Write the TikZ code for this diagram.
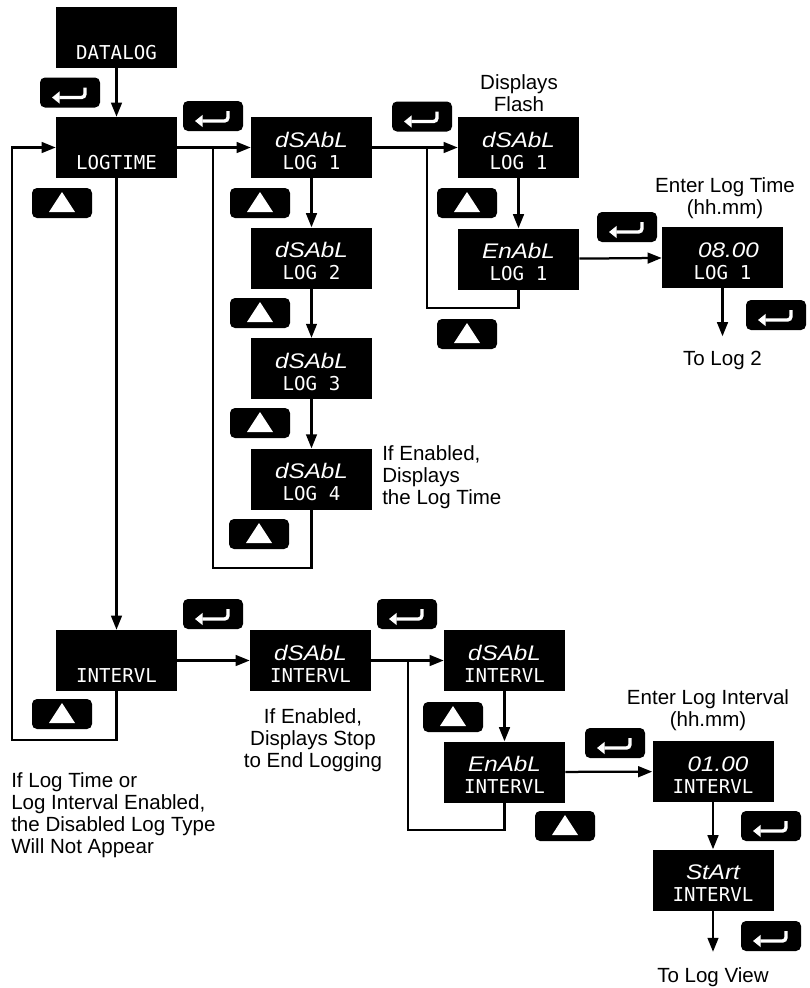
\documentclass[tikz,border=0pt]{standalone}
\usepackage{fontspec}
\setmainfont{Liberation Sans}
\newfontfamily\lcdtopfont{Liberation Sans}[FakeStretch=1.15]
\newfontfamily\lcdbotfont{DejaVu Sans Mono}
\usepackage{tikz}
\usetikzlibrary{arrows.meta, positioning}
\newlength{\px}
\setlength{\px}{0.025cm}
\newcommand{\lcdtop}{\lcdtopfont\itshape\fontsize{15}{15}\selectfont}
\newcommand{\lcdbot}{\lcdbotfont\fontsize{13.6}{14}\selectfont}
% display: upper and lower row
\newcommand{\lcd}[2]{\vbox to 61\px{\offinterlineskip
  \hbox to 121\px{\hss\rule{0pt}{30\px}{\lcdtop #1}\hss}
  \hbox to 121\px{\hss\rule{0pt}{22\px}{\lcdbot #2}\hss}\vss}}
\tikzstyle{lcd} = [rectangle, fill=black, text=white,
minimum width=121\px,
minimum height=61\px,
inner sep=0pt]
\tikzstyle{enterkey} = [rectangle, rounded corners=5\px, fill=black,
minimum width=60\px,
minimum height=30\px,
inner sep=0pt,
path picture={\draw[white, line width=2.4pt, rounded corners=2.5pt, -{Triangle[length=5.5pt,width=8.5pt]}]
  ([shift={(15,-5)}]path picture bounding box.center) |- ([shift={(-18,5)}]path picture bounding box.center);}]
\tikzstyle{upkey} = [rectangle, rounded corners=5\px, fill=black,
minimum width=60\px,
minimum height=30\px,
inner sep=0pt,
path picture={\fill[white, sharp corners] ([shift={(-13,9)}]path picture bounding box.center)
  -- ([shift={(13,9)}]path picture bounding box.center)
  -- ([shift={(0,-11)}]path picture bounding box.center) -- cycle;}]
\tikzstyle{note} = [inner sep=0pt, font=\fontsize{14.6}{15.6}\selectfont]
\tikzstyle{endnote} = [note, inner sep=15\px]
\tikzstyle{line} = [line width=1.6pt]
\tikzstyle{arrow} = [line width=1.6pt, -{Triangle[length=10pt,width=7.6pt]}]

\begin{document}
\begin{tikzpicture}[x=\px, y=-\px, node distance=49\px]
        \useasboundingbox (0,0) rectangle (810,988);

        % --- Displays ---
        \node (datalog) [lcd] at (116.5,37.5) {\lcd{}{DATALOG}};
        \node (logtime) [lcd] at (116.5,147.5) {\lcd{}{LOGTIME}};

        \node (log1) [lcd] at (311.5,147.5) {\lcd{dSAbL}{LOG 1}};
        \node (log2) [lcd, below=of log1] {\lcd{dSAbL}{LOG 2}};
        \node (log3) [lcd, below=of log2] {\lcd{dSAbL}{LOG 3}};
        \node (log4) [lcd, below=of log3] {\lcd{dSAbL}{LOG 4}};

        \node (flash1) [lcd] at (518.5,147.5) {\lcd{dSAbL}{LOG 1}};
        \node (ena1) [lcd, below=50\px of flash1] {\lcd{EnAbL}{LOG 1}};
        \node (time) [lcd] at (722.5,257.5) {\lcd{\hspace*{12\px}08.00}{LOG 1}};

        \node (intervl) [lcd] at (116.5,660.5) {\lcd{}{INTERVL}};
        \node (ivdis) [lcd] at (310.5,660.5) {\lcd{dSAbL}{INTERVL}};
        \node (ivflash) [lcd] at (504.5,660.5) {\lcd{dSAbL}{INTERVL}};
        \node (ivena) [lcd, below=50\px of ivflash] {\lcd{EnAbL}{INTERVL}};
        \node (ivval) [lcd] at (713,771.5) {\lcd{\hspace*{10\px}01.00}{INTERVL}};
        \node (ivstart) [lcd, below=47\px of ivval] {\lcd{StArt}{INTERVL}};

        % --- Keys ---
        \node (ek1) [enterkey] at (70,92.5) {};
        \node (ek2) [enterkey] at (213,116) {};
        \node (ek3) [enterkey] at (422,116.5) {};
        \node (ek4) [enterkey] at (627,227) {};
        \node (ek5) [enterkey] at (776,315) {};
        \node (ek6) [enterkey] at (213,614) {};
        \node (ek7) [enterkey] at (407,614) {};
        \node (ek8) [enterkey] at (615,743) {};
        \node (ek9) [enterkey] at (771,826) {};
        \node (ek10) [enterkey] at (771,936) {};

        \node (uk1) [upkey] at (62,203) {};
        \node (uk2) [upkey] at (260,203) {};
        \node (uk3) [upkey] at (260,313) {};
        \node (uk4) [upkey] at (260,423) {};
        \node (uk5) [upkey] at (259,534) {};
        \node (uk6) [upkey] at (467,203) {};
        \node (uk7) [upkey] at (467,334) {};
        \node (uk8) [upkey] at (62,714) {};
        \node (uk9) [upkey] at (453,717) {};
        \node (uk10) [upkey] at (565,826) {};

        % --- Notes ---
        \node (flashnote) [note, align=center] at (519,93) {Displays\\Flash};
        \node (timenote) [note, align=center] at (725,198) {Enter Log Time\\(hh.mm)};
        \node (log4note) [note, align=left, anchor=west] at (382,477) {If Enabled,\\Displays\\the Log Time};
        \node (stopnote) [note, align=center] at (313,740) {If Enabled,\\Displays Stop\\to End Logging};
        \node (typenote) [note, align=left, anchor=west] at (11,815) {If Log Time or\\Log Interval Enabled,\\the Disabled Log Type\\Will Not Appear};
        \node (ivnote) [note, align=center] at (708,710) {Enter Log Interval\\(hh.mm)};
        \node (tolog2) [endnote, below=48\px of time] {To Log 2};
        \node (tologview) [endnote, below=41\px of ivstart] {To Log View};

        \coordinate (logloop) at (213,568);
        \coordinate (flashloop) at (427,308);
        \coordinate (mainloop) at (12,740);
        \coordinate (ivloop) at (408,830);

        % --- Connectors ---
        \draw [arrow] (datalog) -- (logtime);
        \draw [arrow] (logtime) -- (log1);
        \draw [arrow] (log1) -- (log2);
        \draw [arrow] (log2) -- (log3);
        \draw [arrow] (log3) -- (log4);
        \draw [line] (log4.south) |- (logloop) -- (logloop |- logtime.east);
        \draw [arrow] (log1) -- (flash1);
        \draw [arrow] (flash1) -- (ena1);
        \draw [line] (ena1.south) |- (flashloop) -- (flashloop |- log1.east);
        \draw [arrow] (ena1) -- (time);
        \draw [arrow] (time) -- (tolog2);

        \draw [arrow] (logtime) -- (intervl);
        \draw [arrow] (intervl.south) |- (mainloop) |- (logtime.west);
        \draw [arrow] (intervl) -- (ivdis);
        \draw [arrow] (ivdis) -- (ivflash);
        \draw [arrow] (ivflash) -- (ivena);
        \draw [line] (ivena.south) |- (ivloop) -- (ivloop |- ivdis.east);
        \draw [arrow] (ivena) -- (ivval);
        \draw [arrow] (ivval) -- (ivstart);
        \draw [arrow] (ivstart) -- (tologview);

    \end{tikzpicture}
\end{document}
